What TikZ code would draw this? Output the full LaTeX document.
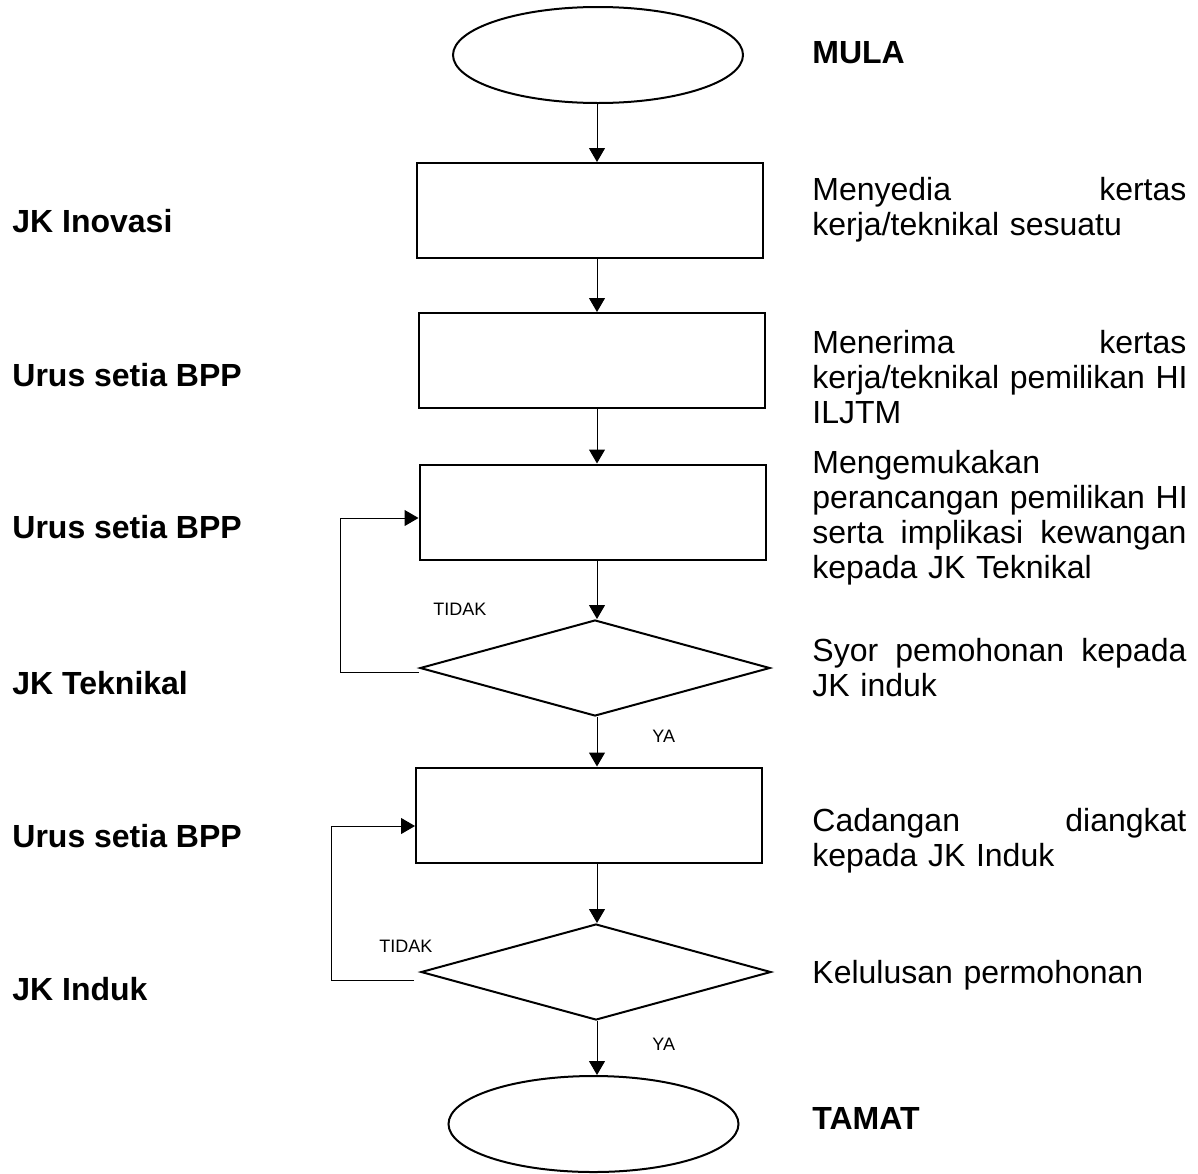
\documentclass[tikz,border=0pt]{standalone}
\usepackage{fontspec}
\setmainfont{Liberation Sans}
\usepackage{tikz}
\usetikzlibrary{shapes.geometric, arrows.meta, positioning, calc}

\begin{document}
\begin{tikzpicture}[
    x=0.5pt, y=-0.5pt,
    terminal/.style={ellipse, draw, line width=1pt, minimum width=145pt, minimum height=48pt, inner sep=0pt},
    process/.style={rectangle, draw, line width=1pt, minimum width=173pt, minimum height=47.5pt, inner sep=0pt},
    decision/.style={diamond, draw, line width=1pt, minimum width=175pt, minimum height=48pt, inner sep=0pt},
    who/.style={anchor=base west, inner sep=0pt, font=\fontsize{16pt}{18pt}\selectfont\bfseries},
    desc/.style={anchor=base west, inner sep=0pt, text width=187pt, align=left, font=\fontsize{16pt}{17.5pt}\selectfont},
    choice/.style={anchor=base west, inner sep=0pt, font=\fontsize{9pt}{10pt}\selectfont},
    arrow/.style={line width=0.5pt, -{Triangle[length=7pt, width=8pt]}},
    loop/.style={line width=0.5pt, -{Triangle[length=7pt, width=8pt]}}
]
\useasboundingbox (0,0) rectangle (1198,1173);

% Nodes
\node (mula) [terminal] at (598,55) {};
\node (sedia) [process] at (589.5,210.5) {};
\node (terima) [process] at (591.5,360.5) {};
\node (kemuka) [process] at (592.5,512) {};
\node (syor) [decision] at (595,668) {};
\node (angkat) [process] at (589,815) {};
\node (lulus) [decision] at (596,972) {};
\node (tamat) [terminal] at (593.5,1124) {};
\coordinate (spine) at (597,0);

% Who does it
\node (wInovasi) [who] at (12,232) {JK Inovasi};
\node (wBpp1) [who] at (12,386) {Urus setia BPP};
\node (wBpp2) [who] at (12,538) {Urus setia BPP};
\node (wTeknikal) [who] at (12,694) {JK Teknikal};
\node (wBpp3) [who] at (12,847) {Urus setia BPP};
\node (wInduk) [who] at (12,1000) {JK Induk};

% What is done
\node (tMula) [who] at (812,63) {MULA};
\node (dSedia) [desc] at (812,200) {Menyedia\hfill kertas\\ kerja/teknikal sesuatu};
\node (dTerima) [desc] at (812,353) {Menerima\hfill kertas\\ \mbox{kerja/teknikal pemilikan HI}\\ ILJTM};
\node (dKemuka) [desc] at (812,473) {Mengemukakan\\ \mbox{perancangan pemilikan HI}\\ serta\hfill implikasi\hfill kewangan\\ kepada JK Teknikal};
\node (dSyor) [desc] at (812,661) {Syor\hfill pemohonan\hfill kepada\\ JK induk};
\node (dAngkat) [desc] at (812,831) {Cadangan\hfill diangkat\\ kepada JK Induk};
\node (dLulus) [desc] at (812,983) {Kelulusan permohonan};
\node (tTamat) [who] at (812,1129) {TAMAT};

% Labels on branches
\node (tidak1) [choice] at (433,615) {TIDAK};
\node (ya1) [choice] at (652,742) {YA};
\node (tidak2) [choice] at (379,952) {TIDAK};
\node (ya2) [choice] at (652,1050) {YA};

% Arrows
\draw [arrow] (mula.south -| spine) -- (sedia.north -| spine);
\draw [arrow] (sedia.south -| spine) -- (terima.north -| spine);
\draw [arrow] (terima.south -| spine) -- (kemuka.north -| spine);
\draw [arrow] (kemuka.south -| spine) -- (syor.north -| spine);
\draw [arrow] (syor.south -| spine) -- (angkat.north -| spine);
\draw [arrow] (angkat.south -| spine) -- (lulus.north -| spine);
\draw [arrow] (lulus.south -| spine) -- (tamat.north -| spine);

\draw [loop] ([yshift=-2pt]syor.west) -- ++(-39.5pt,0) |- ([yshift=-3pt]kemuka.west);
\draw [loop] ([xshift=-3pt, yshift=-4pt]lulus.west) -- ++(-41.5pt,0) |- ([yshift=-5.5pt]angkat.west);

\end{tikzpicture}
\end{document}
